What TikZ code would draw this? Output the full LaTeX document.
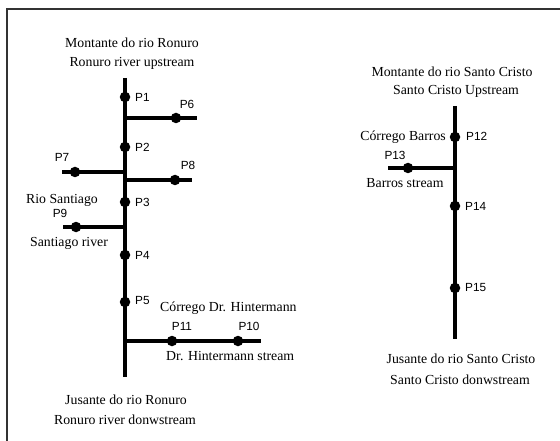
\documentclass[tikz,border=0pt]{standalone}
\usepackage{fontspec}
\setmainfont{Liberation Serif}
\newfontfamily\plabfont{Liberation Sans}
\usepackage{tikz}

\tikzset{
  river/.style={black,line width=4.2pt},
  branch/.style={black,line width=3.2pt},
  pdot/.style={circle,fill=black,inner sep=0pt,minimum width=9.5pt,minimum height=10.5pt},
  plab/.style={font=\plabfont\fontsize{11.8}{13}\selectfont,inner sep=1pt},
  rlab/.style={font=\fontsize{13.8}{16}\selectfont,inner sep=1pt}
}

\begin{document}
\begin{tikzpicture}[x=1pt,y=-1pt]
                          \useasboundingbox (0,0) rectangle (560,441);
                          \draw[line width=1.6pt,black!80] (7,441) -- (7,9) -- (560,9);

                          \coordinate (RT) at (125,78);
                          \coordinate (RB) at (125,377);
                          \coordinate (J6) at (125,118);
                          \coordinate (E6) at (197,118);
                          \coordinate (J7) at (125,172);
                          \coordinate (E7) at (62,172);
                          \coordinate (J8) at (125,180);
                          \coordinate (E8) at (192,180);
                          \coordinate (J9) at (125,227);
                          \coordinate (E9) at (63,227);
                          \coordinate (J10) at (125,341);
                          \coordinate (E10) at (261,341);
                          \coordinate (ST) at (455,106);
                          \coordinate (SB) at (455,339);
                          \coordinate (J13) at (455,168);
                          \coordinate (E13) at (388,168);

                          \draw[river] (RT) -- (RB);
                          \draw[branch] (J6) -- (E6);
                          \draw[branch] (J7) -- (E7);
                          \draw[branch] (J8) -- (E8);
                          \draw[branch] (J9) -- (E9);
                          \draw[branch] (J10) -- (E10);
                          \draw[river] (ST) -- (SB);
                          \draw[branch] (J13) -- (E13);

                          \node[pdot] (P1) at (125,97) {};
                          \node[pdot] (P2) at (125,147) {};
                          \node[pdot] (P3) at (125,202) {};
                          \node[pdot] (P4) at (125,255) {};
                          \node[pdot] (P5) at (125,302) {};
                          \node[pdot] (P6) at (176,118) {};
                          \node[pdot] (P7) at (75,172) {};
                          \node[pdot] (P8) at (175,180) {};
                          \node[pdot] (P9) at (76,227) {};
                          \node[pdot] (P10) at (238,341) {};
                          \node[pdot] (P11) at (172,341) {};
                          \node[pdot] (P12) at (455,137) {};
                          \node[pdot] (P13) at (408,168) {};
                          \node[pdot] (P14) at (455,206) {};
                          \node[pdot] (P15) at (455,288) {};

                          \node[plab,anchor=west] (L1) at (134,97) {P1};
                          \node[plab,anchor=west] (L2) at (134,147) {P2};
                          \node[plab,anchor=west] (L3) at (134,202) {P3};
                          \node[plab,anchor=west] (L4) at (134,255) {P4};
                          \node[plab,anchor=west] (L5) at (134,300) {P5};
                          \node[plab] (L6) at (187,104) {P6};
                          \node[plab] (L7) at (62,157) {P7};
                          \node[plab] (L8) at (188,165) {P8};
                          \node[plab] (L9) at (60,213) {P9};
                          \node[plab] (L10) at (249,326) {P10};
                          \node[plab] (L11) at (182,326) {P11};
                          \node[plab,anchor=west] (L12) at (465,136) {P12};
                          \node[plab] (L13) at (395,155) {P13};
                          \node[plab,anchor=west] (L14) at (464,206) {P14};
                          \node[plab,anchor=west] (L15) at (464,287) {P15};

                          \node[rlab] (UpR1) at (132,43) {Montante do rio Ronuro};
                          \node[rlab] (UpR2) at (132,63) {Ronuro river upstream};
                          \node[rlab] (DnR1) at (126,400) {Jusante do rio Ronuro};
                          \node[rlab] (DnR2) at (125,420) {Ronuro river donwstream};
                          \node[rlab] (Sa1) at (62,200) {Rio Santiago};
                          \node[rlab] (Sa2) at (69,243) {Santiago river};
                          \node[rlab,anchor=west] (Hi1) at (159,308) {Córrego Dr. Hintermann};
                          \node[rlab,anchor=west] (Hi2) at (165,356) {Dr. Hintermann stream};
                          \node[rlab] (UpS1) at (452,72) {Montante do rio Santo Cristo};
                          \node[rlab] (UpS2) at (456,91) {Santo Cristo Upstream};
                          \node[rlab,anchor=east] (Ba1) at (447,137) {Córrego Barros};
                          \node[rlab] (Ba2) at (405,183) {Barros stream};
                          \node[rlab] (DnS1) at (461,359) {Jusante do rio Santo Cristo};
                          \node[rlab] (DnS2) at (460,380) {Santo Cristo donwstream};
                          \end{tikzpicture}
\end{document}
